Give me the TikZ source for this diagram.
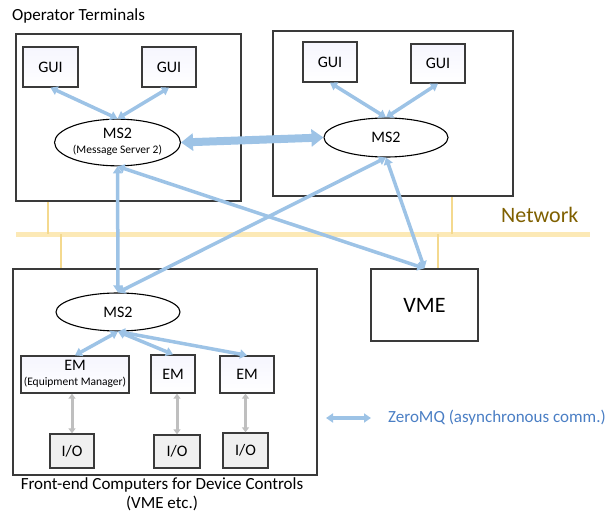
\documentclass[tikz,border=0pt]{standalone}
\usepackage{fontspec}
\setmainfont{Carlito}
\usetikzlibrary{arrows.meta,shapes.geometric}
\definecolor{zmq}{HTML}{9DC3E6}
\definecolor{zmqtext}{HTML}{4A7EC4}
\definecolor{netbar}{HTML}{FCE9B6}
\definecolor{netline}{HTML}{F4D98E}
\definecolor{nettext}{HTML}{7F6000}
\definecolor{frame}{HTML}{3A3A3A}
\definecolor{hwgray}{HTML}{BFBFBF}
\tikzset{
  groupbox/.style={draw=frame, line width=1.3pt},
  appbox/.style={draw=frame, line width=1.3pt, top color=gray!16!blue!4, bottom color=white,
                 inner sep=0pt, font=\fontsize{16}{18}\selectfont},
  iobox/.style={draw=frame, line width=1.3pt, fill=gray!12, inner sep=0pt,
                font=\fontsize{16}{18}\selectfont},
  server/.style={draw=black, line width=1.1pt, ellipse, fill=white, inner sep=0pt,
                 minimum width=125pt, minimum height=39pt, font=\fontsize{16}{18}\selectfont},
  zq/.style={draw=zmq, line width=3.5pt, {Triangle[length=7pt,width=9pt]}-{Triangle[length=7pt,width=9pt]}},
  zqbig/.style={draw=zmq, line width=8pt, {Triangle[length=12pt,width=17pt]}-{Triangle[length=12pt,width=17pt]}},
  hw/.style={draw=hwgray, line width=3pt, {Triangle[length=5pt,width=7pt]}-{Triangle[length=5pt,width=7pt]}},
  tap/.style={draw=netline, line width=1.4pt},
  label17/.style={font=\fontsize{17}{20}\selectfont, inner sep=0pt}
}
\begin{document}
\begin{tikzpicture}[x=1pt, y=-1pt]
\useasboundingbox (0,0) rectangle (614,514);

% network backbone and taps
\draw[draw=netbar, line width=5pt] (16,234) -- (590,234);
\draw[tap] (48,202) -- (48,234);
\draw[tap] (61,234) -- (61,269);
\draw[tap] (452,196) -- (452,234);
\draw[tap] (438,234) -- (438,269);
\node[label17, anchor=west, text=nettext, font=\fontsize{22}{24}\selectfont] (net) at (501,215) {Network};

% group frames
\draw[groupbox] (16,34) rectangle (241,201);
\draw[groupbox] (273,31) rectangle (513,196);
\draw[groupbox] (13,269) rectangle (317,475);
\node[label17, anchor=west] (optitle) at (12,16) {Operator Terminals};
\node[label17, align=center, font=\fontsize{17}{19}\selectfont] (fetitle) at (162,494) {Front-end Computers for Device Controls\\(VME etc.)};

% operator terminal 1
\node[appbox, minimum width=55pt, minimum height=40pt] (gui1) at (50.5,67) {GUI};
\node[appbox, minimum width=54pt, minimum height=40pt] (gui2) at (169,67) {GUI};
\node[server] (ms2a) at (117.5,142.5) {\begin{tabular}{@{}c@{}}MS2\\[-3pt]{\fontsize{11.5}{13}\selectfont (Message Server 2)}\end{tabular}};

% operator terminal 2
\node[appbox, minimum width=54pt, minimum height=40pt] (gui3) at (330,62) {GUI};
\node[appbox, minimum width=54pt, minimum height=39pt] (gui4) at (438,63.5) {GUI};
\node[server, minimum width=124pt] (ms2b) at (386,137.5) {MS2};

% front-end computer
\node[server, minimum width=124pt, minimum height=38pt] (ms2c) at (118,312) {MS2};
\node[appbox, minimum width=108pt, minimum height=37pt] (em1) at (75,374.5) {\begin{tabular}{@{}c@{}}EM\\[-3pt]{\fontsize{11.5}{13}\selectfont (Equipment Manager)}\end{tabular}};
\node[appbox, minimum width=44pt, minimum height=38pt] (em2) at (173,374) {EM};
\node[appbox, minimum width=54pt, minimum height=37pt] (em3) at (247,374.5) {EM};
\node[iobox, minimum width=44pt, minimum height=34pt] (io1) at (72,451) {I/O};
\node[iobox, minimum width=46pt, minimum height=33pt] (io2) at (177,451.5) {I/O};
\node[iobox, minimum width=45pt, minimum height=35pt] (io3) at (245.5,450.5) {I/O};

% VME crate
\node[draw=frame, line width=1.3pt, minimum width=107pt, minimum height=72pt, inner sep=0pt,
      font=\fontsize{22}{24}\selectfont] (vme) at (424.5,305) {VME};

% ZeroMQ links
\draw[zq] (gui1.south) -- (ms2a.north);
\draw[zq] (gui2.south) -- (ms2a.north);
\draw[zq] (gui3.south) -- (ms2b.north);
\draw[zq] (gui4.south) -- (ms2b.north);
\draw[zqbig] (ms2a.east) -- (ms2b.west);
\draw[zq] (ms2a.south) -- (ms2c.north);
\draw[zq] (ms2a.south) -- (vme.north);
\draw[zq] (ms2b.south) -- (ms2c.north);
\draw[zq] (ms2b.south) -- (vme.north);
\draw[zq] (ms2c.south) -- (em1.north);
\draw[zq] (ms2c.south) -- (em2.north);
\draw[zq] (ms2c.south) -- (em3.north);

% EM to I/O hardware access
\draw[hw] (io1.north |- em1.south) -- (io1.north);
\draw[hw] (io2.north |- em2.south) -- (io2.north);
\draw[hw] (io3.north |- em3.south) -- (io3.north);

% legend
\coordinate (lga) at (326,418);
\coordinate (lgb) at (371,418);
\draw[zq] (lga) -- (lgb);
\node[label17, anchor=west, text=zmqtext] (lgtext) at (388,418) {ZeroMQ (asynchronous comm.)};
\end{tikzpicture}
\end{document}
